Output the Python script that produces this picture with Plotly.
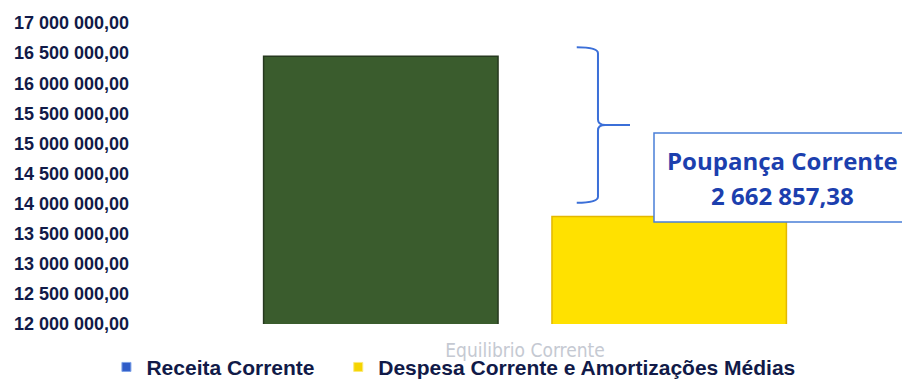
import plotly.graph_objects as go

# dados
categoria = ["Equilibrio Corrente"]
series = ["Receita Corrente", "Despesa Corrente e Amortizações Médias"]
receita = [16447000.00]
despesa = [13784142.62]
poupanca = receita[0] - despesa[0]

tick_vals = [12000000 + 500000 * i for i in range(11)]
tick_text = ["12 000 000,00", "12 500 000,00", "13 000 000,00", "13 500 000,00",
             "14 000 000,00", "14 500 000,00", "15 000 000,00", "15 500 000,00",
             "16 000 000,00", "16 500 000,00", "17 000 000,00"]


def fmt_pt(v):
    s = "{:,.2f}".format(v)
    return s.replace(",", " ").replace(".", ",")


navy = "#111a48"
blue = "#1c3fae"
leg_font = dict(family="Liberation Sans", size=21, color=navy, weight="bold")

fig = go.Figure()
fig.add_trace(go.Bar(x=categoria, y=receita, name=series[0], showlegend=False,
                     marker=dict(color="#3a5c2d", line=dict(color="#26391f", width=1.5))))
fig.add_trace(go.Bar(x=categoria, y=despesa, name=series[1], showlegend=False,
                     marker=dict(color="#ffe100", line=dict(color="#e3b800", width=1.5))))

# legenda com quadrados como no original
fig.add_trace(go.Scatter(x=[None], y=[None], mode="markers", name=series[0], legend="legend",
                         marker=dict(symbol="square", size=9, color="#2f5cc8",
                                     line=dict(color="#7fa3e8", width=1))))
fig.add_trace(go.Scatter(x=[None], y=[None], mode="markers", name=series[1], legend="legend2",
                         marker=dict(symbol="square", size=9, color="#f5d400",
                                     line=dict(color="#fbe97a", width=1))))

# chaveta
top = receita[0] + 150000
bot = despesa[0] + 230000
mid = (top + bot) / 2
xl, xv, xt, xe = 0.569, 0.5973, 0.607, 0.64
path = (f"M {xl},{top} Q {xv},{top} {xv},{top - 100000} "
        f"L {xv},{mid + 90000} Q {xv},{mid} {xt},{mid} L {xe},{mid} "
        f"M {xt},{mid} Q {xv},{mid} {xv},{mid - 90000} "
        f"L {xv},{bot + 100000} Q {xv},{bot} {xl},{bot}")
fig.add_shape(type="path", path=path, xref="paper", yref="y",
              line=dict(color="#3b6fd8", width=2))

# caixa da poupança
fig.add_shape(type="rect", xref="paper", yref="paper", x0=0.672, x1=1.02, y0=0.332, y1=0.622,
              line=dict(color="#4a7fd8", width=1.5), fillcolor="white", layer="above")
fig.add_annotation(x=0.843, y=0.534, xref="paper", yref="paper", showarrow=False, xanchor="center",
                   text="<b>Poupança Corrente</b>", font=dict(family="Open Sans", size=24, color=blue))
fig.add_annotation(x=0.843, y=0.42, xref="paper", yref="paper", showarrow=False, xanchor="center",
                   text="<b>" + fmt_pt(poupanca) + "</b>", font=dict(family="Open Sans", size=24, color=blue))

fig.update_layout(
    width=902, height=381,
    margin=dict(l=150, r=2, t=17, b=57, autoexpand=False),
    paper_bgcolor="white", plot_bgcolor="white",
    barmode="group", bargap=0.231, bargroupgap=0.187,
    xaxis=dict(showgrid=False, showline=False, zeroline=False, ticks="", automargin=False,
               ticklabelstandoff=13,
               tickfont=dict(family="Liberation Sans Narrow, DejaVu Sans Condensed", size=19, color="#c5c9d2")),
    yaxis=dict(range=[12000000, 17100000], tickvals=tick_vals, ticktext=tick_text,
               showgrid=False, showline=False, zeroline=False, ticks="", automargin=False,
               ticklabelstandoff=20,
               tickfont=dict(family="Liberation Sans", size=18, color=navy, weight="bold")),
    legend=dict(orientation="h", xref="container", yref="container", x=0.118, y=0.036,
                xanchor="left", yanchor="middle", font=leg_font, itemwidth=30, bgcolor="rgba(0,0,0,0)"),
    legend2=dict(orientation="h", xref="container", yref="container", x=0.375, y=0.036,
                 xanchor="left", yanchor="middle", font=leg_font, itemwidth=30, bgcolor="rgba(0,0,0,0)"),
)

fig.write_html("out.html", config={"displayModeBar": False},
               post_script="document.body.style.margin = '0';")
